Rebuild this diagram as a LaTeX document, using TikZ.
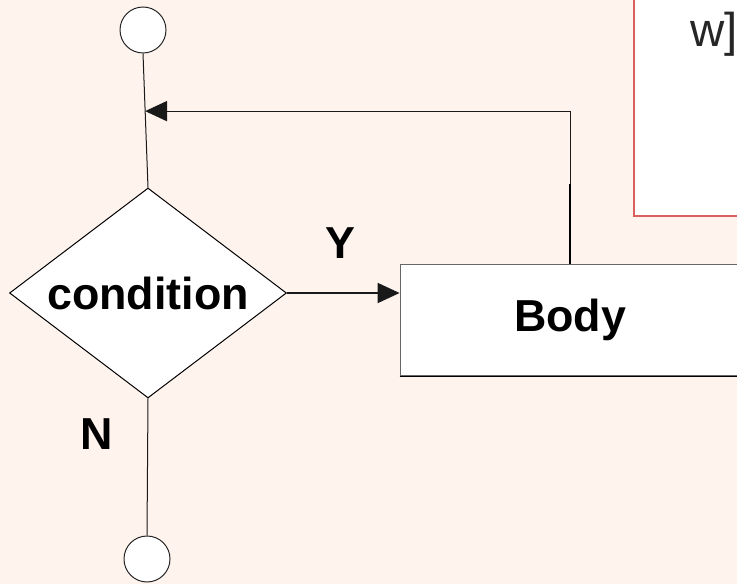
\documentclass[tikz,border=0pt]{standalone}
\usepackage{fontspec}
\setmainfont{Liberation Sans}
\usetikzlibrary{shapes.geometric,arrows.meta,calc}
\definecolor{paper}{HTML}{FFF3EE}
\definecolor{frame}{HTML}{D9605E}
\tikzset{
  px/.style={line width=0.57pt},
  terminal/.style={circle,draw=black!85,fill=white,px,minimum size=0.92cm,inner sep=0pt},
  decision/.style={diamond,shape aspect=1.32,draw=black,fill=white,px,minimum width=5.54cm,minimum height=4.2cm,inner sep=0pt,
    font=\fontsize{25.5pt}{30pt}\selectfont\bfseries},
  process/.style={rectangle,draw=black!60,fill=white,px,minimum width=6.8cm,minimum height=2.24cm,inner sep=0pt,
    font=\fontsize{25.5pt}{30pt}\selectfont\bfseries},
  flow/.style={draw=black!90,px},
  tip/.style={-{Triangle[length=12.5pt,width=11.5pt]}},
  branch/.style={font=\fontsize{25.5pt}{30pt}\selectfont\bfseries}
}
\begin{document}
\begin{tikzpicture}[x=0.02cm,y=-0.02cm]
  \useasboundingbox (0,0) rectangle (737,584);
  \clip (0,0) rectangle (737,584);
  \fill[paper] (0,0) rectangle (737,584);

  % code panel in the corner
  \draw[frame,line width=1.2pt,fill=white] (634,-10) rectangle (760,216);
  \node[anchor=base west,inner sep=0pt,text=black!85,font=\fontsize{27pt}{30pt}\selectfont] (code) at (690,47) {w]};

  % flowchart nodes
  \node[terminal] (start) at (143,30) {};
  \node[decision] (cond) at (148,293) {condition};
  \node[process] (body) at (570,320) {Body};
  \node[terminal] (stop) at (147,559) {};
  \draw[black,line width=0.6pt] (body.south west) -- (body.south east);

  % connectors
  \draw[flow] (start.south) -- (cond.north);
  \draw[flow] (cond.south) -- (stop.north);
  \draw[flow,tip] (cond.east) -- (cond.east -| body.west);
  \coordinate (back) at ($(start.south)!0.43!(cond.north)$);
  \draw[flow,tip] (body.north) |- (back);
  \draw[black,line width=1.2pt] (body.north) -- ++(0,-80);

  % branch labels
  \node[branch] (yes) at (340,243) {Y};
  \node[branch] (no) at (97,434) {N};
\end{tikzpicture}
\end{document}
